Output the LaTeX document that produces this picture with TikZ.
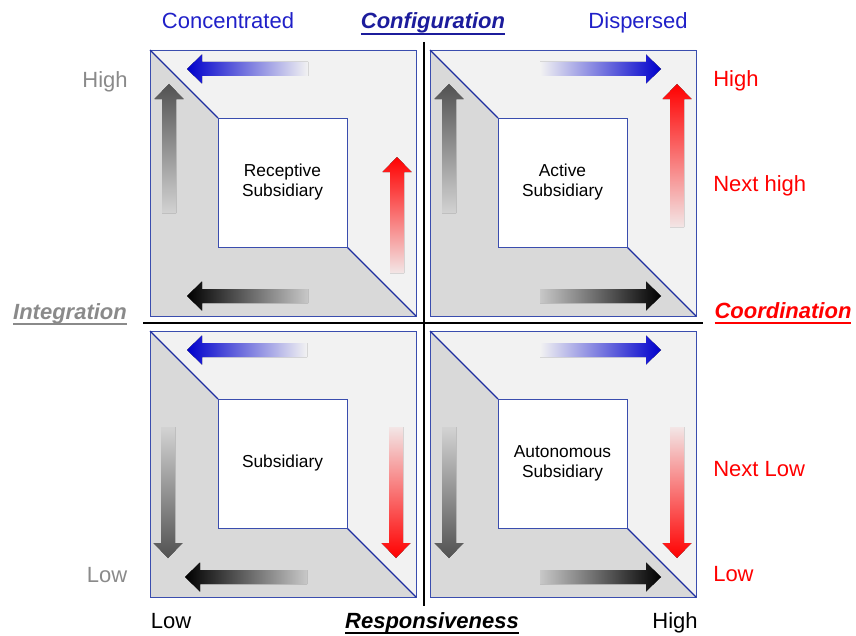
\documentclass[tikz,border=0pt]{standalone}
\usepackage{fontspec}
\setmainfont{Liberation Sans}
\usetikzlibrary{positioning}
\definecolor{cLight}{HTML}{F2F2F2}
\definecolor{cDark} {HTML}{D9D9D9}
\definecolor{cEdge} {HTML}{3A4DAE}
\definecolor{cDiag} {HTML}{1E2DA0}
\definecolor{cBlue} {HTML}{0000CC}
\definecolor{cBlueT}{HTML}{2020C8}
\definecolor{cConf} {HTML}{1C1C9C}
\definecolor{cGrayT}{HTML}{8A8A8A}
\definecolor{cRed}  {HTML}{FF0000}

% underlined axis title
\newcommand{\axisul}[1]{\sbox0{#1}\rlap{\usebox0}\rule[-4.5pt]{\wd0}{1.5pt}}
% block arrows: tail, tip, position, shading
\newcommand{\harrow}[4]{%
  \pgfmathsetmacro\arrbase{#2+15*sign(#1-#2)}%
  \fill[#4] (#1,#3-7) -- (\arrbase,#3-7) -- (\arrbase,#3-14.5) -- (#2,#3)
     -- (\arrbase,#3+14.5) -- (\arrbase,#3+7) -- (#1,#3+7) -- cycle;}
\newcommand{\varrow}[4]{%
  \pgfmathsetmacro\arrbase{#3+15*sign(#2-#3)}%
  \fill[#4] (#1-7,#2) -- (#1-7,\arrbase) -- (#1-14.5,\arrbase) -- (#1,#3)
     -- (#1+14.5,\arrbase) -- (#1+7,\arrbase) -- (#1+7,#2) -- cycle;}

\begin{document}
\begin{tikzpicture}[
    x=0.75pt,y=-0.75pt,
    inbox/.style={draw=cEdge,fill=white,line width=0.6pt,minimum size=96.75pt,
                  inner sep=0pt,align=center,font=\fontsize{13}{15}\selectfont},
    lbl/.style ={font=\fontsize{16.5}{18}\selectfont,inner sep=0pt,anchor=base},
    ttl/.style ={lbl,font=\fontsize{16.5}{18}\selectfont\bfseries\itshape},
    axis/.style={line width=1.5pt,black},
    blueL/.style={left color=cBlue,right color=cLight},
    blueR/.style={left color=cLight,right color=cBlue},
    blackL/.style={left color=black,right color=cDark!92!black},
    blackR/.style={left color=cDark!92!black,right color=black},
    grayU/.style={top color=black!68,bottom color=cDark!97!black},
    grayD/.style={top color=cDark!97!black,bottom color=black!68},
    redU/.style={top color=cRed,bottom color=cRed!5!cLight},
    redD/.style={top color=cRed!5!cLight,bottom color=cRed},
  ]
  \useasboundingbox (0,0) rectangle (856,635);

  % ---------- FRAMES ----------
  \foreach \qx/\qy in {150/50,430/50,150/331,430/331}{
    \begin{scope}[shift={(\qx,\qy)}]
      \fill[cLight] (0,0) -- (266,0) -- (266,266) -- (197,197) -- (197,68) -- (68,68) -- cycle;
      \fill[cDark]  (0,0) -- (68,68) -- (68,197) -- (197,197) -- (266,266) -- (0,266) -- cycle;
      \draw[cEdge,line width=0.6pt] (0,0) rectangle (266,266);
      \draw[cDiag,line width=0.9pt] (0,0) -- (68,68) (197,197) -- (266,266);
    \end{scope}
  }

  \node[inbox] (rec) at (282.5,182.5) {Receptive\\Subsidiary};
  \node[inbox] (act) at (562.5,182.5) {Active\\Subsidiary};
  \node[inbox] (sub) at (282.5,463.5) {Subsidiary};
  \node[inbox] (aut) at (562.5,463.5) {Autonomous\\Subsidiary};

  % ---------- ARROWS ----------
  \harrow{308}{187}{69}{blueL}   \harrow{308}{187}{296}{blackL}
  \varrow{169}{213}{84}{grayU}   \varrow{397}{273}{157}{redU}
  \harrow{540}{661}{69}{blueR}   \harrow{540}{661}{296}{blackR}
  \varrow{449}{213}{84}{grayU}   \varrow{677}{227}{84}{redU}
  \harrow{307}{187}{350}{blueL}  \harrow{307}{185}{577}{blackL}
  \varrow{168}{427}{558}{grayD}  \varrow{396}{427}{558}{redD}
  \harrow{540}{661}{350}{blueR}  \harrow{540}{661}{577}{blackR}
  \varrow{449}{427}{558}{grayD}  \varrow{677}{427}{558}{redD}

  % ---------- AXES ----------
  \coordinate (vtop) at (424,42);
  \coordinate (vbot) at (424,606);
  \coordinate (hlft) at (143,323);
  \coordinate (hrgt) at (703,323);
  \draw[axis] (vtop) -- (vbot);
  \draw[axis] (hlft) -- (hrgt);

  % ---------- LABELS ----------
  \node[lbl,cBlueT] (conc) at (228,29) {Concentrated};
  \node[ttl,cConf]  (conf) at (433,29) {\axisul{Configuration}};
  \node[lbl,cBlueT] (disp) at (638,29) {Dispersed};

  \node[lbl,cGrayT] (ihigh) at (105,88) {High};
  \node[lbl,cGrayT] (ilow)  at (107,582) {Low};
  \node[ttl,cGrayT] (integ) at (70,319) {\axisul{Integration}};

  \node[lbl,cRed,anchor=base west] (chigh) at (713,87)  {High};
  \node[lbl,cRed,anchor=base west] (cnhi)  at (713,191) {Next high};
  \node[ttl,cRed] (coord) at (783,318) {\axisul{Coordination}};
  \node[lbl,cRed,anchor=base west] (cnlo)  at (713,476) {Next Low};
  \node[lbl,cRed,anchor=base west] (clow)  at (713,581) {Low};

  \node[lbl] (rlow)  at (171,628) {Low};
  \node[ttl] (resp)  at (432,628) {\axisul{Responsiveness}};
  \node[lbl] (rhigh) at (675,628) {High};

\end{tikzpicture}
\end{document}
